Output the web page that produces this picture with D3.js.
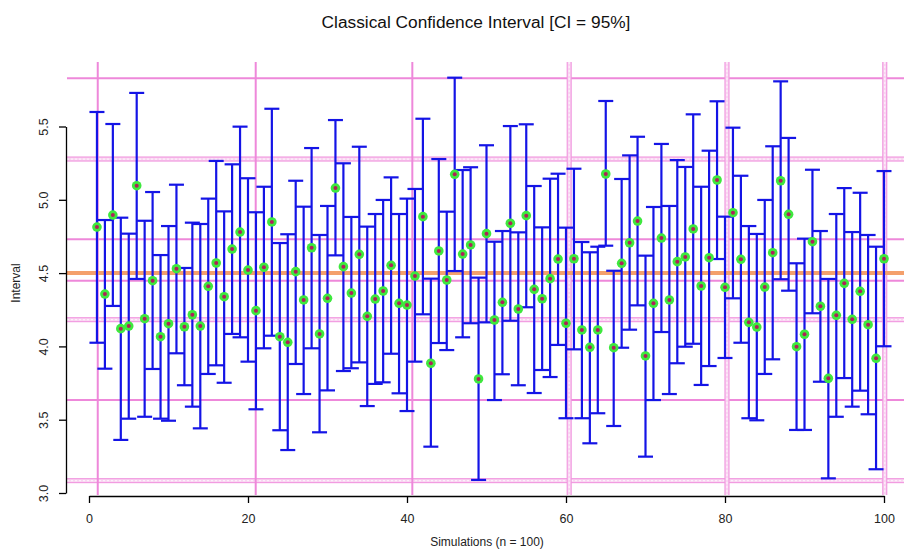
<!DOCTYPE html>
<html>
<head>
<meta charset="utf-8">
<script src="https://cdn.jsdelivr.net/npm/d3@7/dist/d3.min.js"></script>
<style>
  html, body { margin: 0; padding: 0; background: #fff; }
  svg { display: block; font-family: "Liberation Sans", Arial, sans-serif; }
</style>
</head>
<body>
<svg id="chart" width="904" height="551"></svg>
<script>
// Simulated sample means and their 95% confidence limits
const simulations = d3.range(1, 101);

const means = [
  4.814, 4.357, 4.896, 4.121, 4.139, 5.096, 4.189, 4.448, 4.066, 4.155,
  4.530, 4.134, 4.216, 4.139, 4.410, 4.569, 4.339, 4.664, 4.780, 4.521,
  4.244, 4.540, 4.849, 4.066, 4.028, 4.510, 4.317, 4.673, 4.085, 4.328,
  5.080, 4.544, 4.364, 4.628, 4.205, 4.323, 4.378, 4.553, 4.294, 4.282,
  4.480, 4.885, 3.885, 4.651, 4.453, 5.174, 4.630, 4.692, 3.778, 4.769,
  4.180, 4.301, 4.840, 4.255, 4.892, 4.389, 4.325, 4.462, 4.596, 4.158,
  4.598, 4.112, 3.994, 4.112, 5.176, 3.991, 4.567, 4.707, 4.855, 3.935,
  4.294, 4.739, 4.317, 4.578, 4.610, 4.801, 4.412, 4.605, 5.135, 4.403,
  4.912, 4.594, 4.164, 4.132, 4.405, 4.639, 5.130, 4.901, 3.998, 4.083,
  4.714, 4.274, 3.782, 4.212, 4.430, 4.185, 4.376, 4.148, 3.919, 4.598
];

const upper = [
  5.599, 4.862, 5.517, 4.878, 4.769, 5.729, 4.857, 5.053, 4.623, 4.821,
  5.103, 4.535, 4.844, 4.835, 5.008, 5.265, 4.921, 5.242, 5.499, 5.147,
  4.915, 5.089, 5.621, 4.705, 4.765, 5.130, 4.953, 5.353, 4.760, 4.958,
  5.544, 5.249, 4.883, 5.362, 4.817, 4.903, 4.999, 5.153, 4.903, 5.008,
  5.074, 5.553, 4.462, 5.278, 4.919, 5.833, 5.203, 5.222, 4.469, 5.372,
  4.714, 4.787, 5.503, 4.778, 5.515, 5.094, 4.812, 5.144, 5.178, 4.810,
  5.212, 4.712, 4.642, 4.680, 5.674, 4.516, 5.142, 5.303, 5.430, 4.619,
  4.951, 5.381, 4.958, 5.271, 5.224, 5.583, 5.089, 5.335, 5.672, 4.885,
  5.492, 5.164, 4.821, 4.767, 4.999, 5.365, 5.808, 5.422, 4.567, 4.735,
  5.205, 4.787, 4.460, 4.903, 5.080, 4.780, 5.048, 4.760, 4.680, 5.196
];

const lower = [
  4.025, 3.848, 4.276, 3.362, 3.507, 4.460, 3.520, 3.846, 3.507, 3.493,
  3.953, 3.735, 3.589, 3.441, 3.812, 3.871, 3.752, 4.085, 4.062, 3.896,
  3.571, 3.987, 4.073, 3.428, 3.293, 3.880, 3.675, 3.987, 3.414, 3.700,
  4.621, 3.832, 3.851, 3.891, 3.593, 3.744, 3.755, 3.950, 3.680, 3.559,
  3.896, 4.219, 3.316, 4.023, 3.975, 4.514, 4.062, 4.158, 3.089, 4.164,
  3.634, 3.810, 4.175, 3.735, 4.267, 3.682, 3.839, 3.791, 4.010, 3.510,
  3.980, 3.510, 3.339, 3.544, 4.687, 3.457, 3.991, 4.114, 4.280, 3.248,
  3.634, 4.098, 3.675, 3.885, 3.998, 4.018, 3.737, 3.866, 4.596, 3.921,
  4.328, 4.025, 3.510, 3.496, 3.812, 3.912, 4.458, 4.380, 3.430, 3.430,
  4.226, 3.759, 3.100, 3.520, 3.784, 3.589, 3.698, 3.537, 3.162, 4.001
];

// True population mean
const trueMean = 4.5;

// Axis ticks
const xTicks = [0, 20, 40, 60, 80, 100];
const yTicks = [3.0, 3.5, 4.0, 4.5, 5.0, 5.5];

// Reference grid: [position, doubled?]
const gridX = [[1.1, false], [20.97, false], [40.67, false], [60.4, true], [80.25, true], [100.1, true]];
const gridY = [[5.829, false], [5.278, true], [4.731, false], [4.448, false], [4.182, true], [3.634, false], [3.084, true]];

const titleText = "Classical Confidence Interval [CI = 95%]";
const xLabel = "Simulations (n = 100)";
const yLabel = "Interval";

const data = simulations.map((s, i) => ({ sim: s, mean: means[i], lo: lower[i], hi: upper[i] }));

const svg = d3.select("#chart");
const x = d3.scaleLinear().domain([0, 100]).range([89, 884]);
const y = d3.scaleLinear().domain([3, 5.5]).range([493, 126.5]);

const plotLeft = 67, plotRight = 904, plotTop = 62, plotBottom = 495;
const pink = "#ee88da", pinkLight = "#f9d4f1";

// grid lines
const grid = svg.append("g");
function hLine(v, doubled) {
  const py = y(v);
  if (doubled) {
    grid.append("line").attr("x1", plotLeft).attr("x2", plotRight).attr("y1", py).attr("y2", py)
      .attr("stroke", pinkLight).attr("stroke-width", 4.5);
    grid.append("line").attr("x1", plotLeft).attr("x2", plotRight).attr("y1", py).attr("y2", py)
      .attr("stroke", "#fdf0fa").attr("stroke-width", 1.2).attr("stroke-dasharray", "2,2");
    [-2, 2].forEach(o => grid.append("line").attr("x1", plotLeft).attr("x2", plotRight)
      .attr("y1", py + o).attr("y2", py + o).attr("stroke", pink).attr("stroke-width", 0.9));
  } else {
    grid.append("line").attr("x1", plotLeft).attr("x2", plotRight).attr("y1", py).attr("y2", py)
      .attr("stroke", pink).attr("stroke-width", 2);
  }
}
function vLine(v, doubled) {
  const px = x(v);
  if (doubled) {
    grid.append("line").attr("y1", plotTop).attr("y2", plotBottom).attr("x1", px).attr("x2", px)
      .attr("stroke", pinkLight).attr("stroke-width", 4.5);
    grid.append("line").attr("y1", plotTop).attr("y2", plotBottom).attr("x1", px).attr("x2", px)
      .attr("stroke", "#fdf0fa").attr("stroke-width", 1.2).attr("stroke-dasharray", "2,2");
    [-2, 2].forEach(o => grid.append("line").attr("y1", plotTop).attr("y2", plotBottom)
      .attr("x1", px + o).attr("x2", px + o).attr("stroke", pink).attr("stroke-width", 0.9));
  } else {
    grid.append("line").attr("y1", plotTop).attr("y2", plotBottom).attr("x1", px).attr("x2", px)
      .attr("stroke", pink).attr("stroke-width", 2);
  }
}
gridY.forEach(([v, d]) => hLine(v, d));
gridX.forEach(([v, d]) => vLine(v, d));

// true mean line
svg.append("line")
  .attr("x1", plotLeft).attr("x2", plotRight)
  .attr("y1", y(trueMean)).attr("y2", y(trueMean))
  .attr("stroke", "#f4a06c").attr("stroke-width", 4);

// confidence intervals
const capHalf = 7.5;
const ci = svg.append("g").attr("stroke", "#1414e6").attr("stroke-width", 2.2).attr("fill", "none");
const bars = ci.selectAll("g").data(data).join("g");
bars.append("line")
  .attr("x1", d => x(d.sim)).attr("x2", d => x(d.sim))
  .attr("y1", d => y(d.lo)).attr("y2", d => y(d.hi));
bars.append("line")
  .attr("x1", d => x(d.sim) - capHalf).attr("x2", d => x(d.sim) + capHalf)
  .attr("y1", d => y(d.hi)).attr("y2", d => y(d.hi));
bars.append("line")
  .attr("x1", d => x(d.sim) - capHalf).attr("x2", d => x(d.sim) + capHalf)
  .attr("y1", d => y(d.lo)).attr("y2", d => y(d.lo));

// sample means
const pts = svg.append("g");
pts.selectAll("circle.outer").data(data).join("circle")
  .attr("class", "outer")
  .attr("cx", d => x(d.sim)).attr("cy", d => y(d.mean)).attr("r", 4.8)
  .attr("fill", "#3ee83e");
pts.selectAll("circle.inner").data(data).join("circle")
  .attr("class", "inner")
  .attr("cx", d => x(d.sim)).attr("cy", d => y(d.mean)).attr("r", 2)
  .attr("fill", "#b0205a");

// axes
const xAxis = svg.append("g")
  .attr("transform", "translate(0,496)")
  .call(d3.axisBottom(x).tickValues(xTicks).tickFormat(d3.format("d")).tickSize(7).tickSizeOuter(0).tickPadding(11));
const yAxis = svg.append("g")
  .attr("transform", "translate(66,0)")
  .call(d3.axisLeft(y).tickValues(yTicks).tickFormat(d3.format(".1f")).tickSize(7).tickSizeOuter(0));
[xAxis, yAxis].forEach(g => {
  g.select(".domain").attr("stroke", "#000").attr("stroke-width", 1.3);
  g.selectAll(".tick line").attr("stroke", "#000").attr("stroke-width", 1.3);
  g.selectAll(".tick text").attr("fill", "#222").attr("font-size", 12.5)
    .attr("font-family", "Liberation Sans, Arial, sans-serif");
});
yAxis.selectAll(".tick text")
  .attr("transform", "rotate(-90)")
  .attr("x", 0).attr("y", -22).attr("dy", "0.35em")
  .attr("text-anchor", "middle");

// titles
svg.append("text")
  .attr("x", 476).attr("y", 28)
  .attr("text-anchor", "middle")
  .attr("font-size", 17.3).attr("fill", "#111")
  .text(titleText);
svg.append("text")
  .attr("x", 487).attr("y", 546)
  .attr("text-anchor", "middle")
  .attr("font-size", 12).attr("fill", "#222")
  .text(xLabel);
svg.append("text")
  .attr("transform", "translate(20,283) rotate(-90)")
  .attr("text-anchor", "middle")
  .attr("font-size", 12).attr("fill", "#222")
  .text(yLabel);
</script>
</body>
</html>
